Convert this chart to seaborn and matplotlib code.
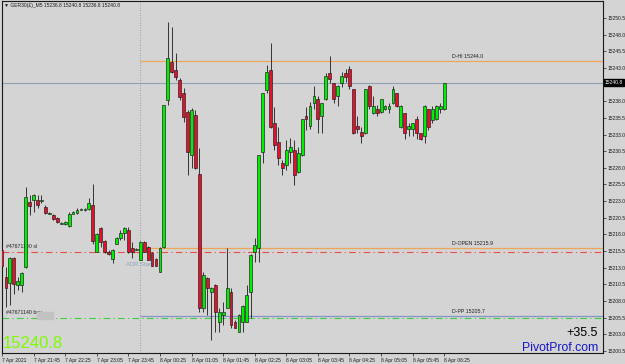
import matplotlib
matplotlib.use("Agg")
import matplotlib.pyplot as plt
import matplotlib.patches as mpatches
import numpy as np
import pandas as pd
import seaborn as sns

# ---------------- data ----------------
opens = [15215.7, 15211.6, 15210.7, 15214.5, 15210.4, 15210.4, 15213.1, 15222.9, 15223.2, 15223.2,
         15223.0, 15222.1, 15221.1, 15220.9, 15220.5, 15219.6, 15219.6, 15219.3, 15221.1, 15221.2,
         15221.7, 15221.7, 15221.8, 15222.4, 15215.4, 15219.0, 15217.0, 15215.4, 15214.3, 15216.6,
         15217.5, 15218.2, 15218.7, 15216.0, 15215.7, 15214.2, 15216.9, 15216.1, 15215.2, 15214.3,
         15212.4, 15216.1, 15238.2, 15243.9, 15242.7, 15241.2, 15239.2, 15236.4, 15229.9, 15235.9,
         15227.1, 15207.0, 15211.5, 15209.4, 15210.4, 15204.9, 15205.9, 15207.0, 15209.4, 15204.9,
         15203.4, 15204.9, 15204.9, 15209.4, 15215.4, 15216.0, 15230.4, 15239.7, 15242.7, 15234.7,
         15231.9, 15228.7, 15228.4, 15230.4, 15230.7, 15227.4, 15229.9, 15235.8, 15234.3, 15237.7,
         15238.3, 15235.8, 15238.3, 15242.2, 15240.7, 15238.8, 15240.7, 15242.2, 15242.8, 15239.8,
         15234.3, 15233.4, 15233.2, 15240.3, 15236.2, 15236.8, 15236.4, 15236.8, 15236.8, 15237.7,
         15239.2, 15234.1, 15236.2, 15233.8, 15233.8, 15235.3, 15233.2, 15232.8, 15236.8, 15235.2,
         15235.3, 15236.8, 15236.8]
highs = [15216.0, 15213.1, 15214.6, 15214.6, 15211.6, 15212.3, 15225.1, 15223.9, 15224.1, 15223.9,
         15223.9, 15222.4, 15221.3, 15221.1, 15220.6, 15219.9, 15220.0, 15221.3, 15221.5, 15222.0,
         15222.0, 15222.0, 15223.5, 15225.6, 15218.2, 15219.1, 15217.2, 15215.7, 15215.8, 15217.6,
         15218.7, 15219.1, 15219.1, 15216.9, 15216.0, 15217.0, 15217.0, 15216.3, 15215.4, 15214.5,
         15216.1, 15237.5, 15249.9, 15249.2, 15245.2, 15241.5, 15240.0, 15236.7, 15237.0, 15236.7,
         15231.0, 15212.4, 15211.6, 15210.1, 15210.5, 15207.0, 15207.9, 15216.0, 15210.0, 15205.2,
         15206.0, 15207.4, 15210.4, 15215.0, 15217.5, 15230.0, 15239.3, 15243.4, 15246.7, 15237.1,
         15234.1, 15229.2, 15232.2, 15232.5, 15232.2, 15231.1, 15235.4, 15237.1, 15237.9, 15240.3,
         15238.8, 15237.8, 15242.2, 15244.8, 15240.8, 15240.4, 15242.4, 15242.8, 15243.3, 15239.9,
         15235.8, 15234.1, 15239.9, 15240.4, 15238.8, 15237.4, 15238.4, 15237.4, 15237.7, 15240.3,
         15239.3, 15237.4, 15236.3, 15234.7, 15234.8, 15235.8, 15233.3, 15237.4, 15236.9, 15237.3,
         15237.4, 15237.7, 15240.8]
lows = [15212.7, 15207.1, 15207.4, 15209.1, 15209.7, 15209.4, 15213.0, 15220.9, 15221.4, 15222.0,
        15222.7, 15221.1, 15221.0, 15220.2, 15219.7, 15219.5, 15219.4, 15219.1, 15221.0, 15221.1,
        15221.6, 15221.5, 15221.7, 15216.6, 15215.3, 15216.1, 15215.2, 15214.9, 15213.7, 15216.5,
        15217.2, 15217.2, 15215.2, 15214.5, 15215.6, 15214.1, 15215.3, 15214.1, 15213.2, 15213.2,
        15212.3, 15216.0, 15237.4, 15242.2, 15241.2, 15238.2, 15234.9, 15226.9, 15228.0, 15227.9,
        15206.4, 15206.4, 15205.9, 15202.2, 15203.4, 15203.4, 15204.4, 15206.9, 15204.0, 15203.9,
        15203.3, 15203.4, 15204.8, 15205.5, 15213.9, 15213.9, 15228.7, 15239.2, 15234.0, 15230.7,
        15228.4, 15226.9, 15227.7, 15228.7, 15225.4, 15227.3, 15229.8, 15233.7, 15233.8, 15236.8,
        15233.2, 15233.2, 15238.2, 15240.7, 15237.7, 15237.3, 15240.1, 15240.9, 15239.8, 15233.1,
        15233.2, 15231.7, 15233.1, 15236.8, 15236.1, 15235.8, 15236.3, 15236.7, 15236.2, 15237.6,
        15237.2, 15234.0, 15232.3, 15232.8, 15232.8, 15232.3, 15232.2, 15231.7, 15233.7, 15234.7,
        15235.2, 15236.2, 15236.7]
closes = [15213.3, 15210.0, 15214.5, 15210.6, 15211.0, 15212.2, 15223.6, 15222.3, 15223.9, 15222.4,
          15223.2, 15221.2, 15221.2, 15220.3, 15219.9, 15219.7, 15219.9, 15221.1, 15221.4, 15221.7,
          15221.8, 15221.8, 15222.7, 15217.0, 15218.1, 15216.9, 15215.4, 15215.1, 15215.7, 15217.5,
          15218.2, 15219.0, 15215.4, 15215.4, 15215.8, 15216.9, 15215.4, 15214.2, 15213.3, 15213.3,
          15216.0, 15237.4, 15244.5, 15242.4, 15241.6, 15238.6, 15235.6, 15230.4, 15236.7, 15228.0,
          15207.0, 15211.9, 15210.0, 15210.0, 15206.4, 15206.4, 15206.4, 15210.0, 15204.4, 15204.0,
          15205.9, 15207.3, 15208.9, 15214.9, 15216.4, 15229.9, 15239.2, 15242.4, 15234.1, 15231.4,
          15229.5, 15228.0, 15230.7, 15231.1, 15226.9, 15230.2, 15235.3, 15235.3, 15237.3, 15238.8,
          15235.3, 15237.7, 15241.8, 15241.3, 15238.3, 15240.3, 15241.8, 15241.6, 15240.3, 15233.2,
          15233.8, 15232.8, 15239.8, 15237.3, 15237.3, 15236.2, 15238.3, 15237.3, 15237.3, 15239.8,
          15237.3, 15237.3, 15233.2, 15234.3, 15234.7, 15233.2, 15232.3, 15237.3, 15234.1, 15236.8,
          15237.3, 15237.3, 15240.8]

tick_bars = [0, 8, 16, 24, 32, 40, 48, 56, 64, 72, 80, 88, 96, 104, 112]
tick_labels = ["7 Apr 2021", "7 Apr 21:45", "7 Apr 22:25", "7 Apr 23:05", "7 Apr 23:45",
               "8 Apr 00:25", "8 Apr 01:05", "8 Apr 01:45", "8 Apr 02:25", "8 Apr 03:05",
               "8 Apr 03:45", "8 Apr 04:25", "8 Apr 05:05", "8 Apr 05:45", "8 Apr 06:25"]
price_ticks = [15200.5, 15203.0, 15205.5, 15208.0, 15210.5, 15213.0, 15215.5, 15218.0, 15220.5,
               15223.0, 15225.5, 15228.0, 15230.5, 15233.0, 15235.5, 15238.0, 15243.0, 15245.5,
               15248.0, 15250.5]
day_start_bar = 35
level_names = ["D-HI", "D-OPEN", "D-PP"]
level_values = [15244.0, 15215.9, 15205.7]
bid_price = 15240.8
sl_price = 15215.4
buy_price = 15205.5
change_text = "+35.5"
title_text = "\u25bc GER30(\u00a3)_M5 15236.8 15240.8 15236.8 15240.8"

df = pd.DataFrame({"open": opens, "high": highs, "low": lows, "close": closes})
df["bar"] = np.arange(len(df))
df["up"] = df["close"] >= df["open"]

# ---------------- styling ----------------
BG = "#d4d4d4"
sns.set_theme(style="white")
plt.rcParams["font.family"] = ["Liberation Sans", "DejaVu Sans"]
plt.rcParams["axes.facecolor"] = BG
plt.rcParams["figure.facecolor"] = BG

W, H = 625, 364
fig = plt.figure(figsize=(W / 100, H / 100), dpi=100)
ax = fig.add_axes([2 / W, 1 - 353 / H, 601 / W, 352 / H])
ax.set_facecolor(BG)

x_lo, x_hi = 0.08, 152.2
ax.set_xlim(x_lo, x_hi)
ax.set_ylim(15200.2, 15253.05)

# day separator
ax.axvline(day_start_bar, color="#8a8a8a", lw=0.6, ls=(0, (1, 2)), zorder=1)

# order lines
ax.axhline(sl_price, color="#f04a4a", lw=0.8, ls=(0, (6, 3, 1, 3)), zorder=1)
ax.axhline(buy_price, color="#3ccf3c", lw=0.8, ls=(0, (6, 3, 1, 3)), zorder=1)
# bid line
ax.axhline(bid_price, color="#8fa0b4", lw=0.8, zorder=1)

# daily levels
level_colors = ["#eea55a", "#eea55a", "#8894c8"]
for nm, val, col in zip(level_names, level_values, level_colors):
    ax.hlines(val, day_start_bar, x_hi, color=col, lw=0.9, zorder=1)
    ax.annotate(f"{nm} {val:.1f}", xy=(114, val), xytext=(0, 1.5), textcoords="offset points",
                fontsize=3.8, color="#202020", ha="left", va="bottom")

# candles
up = df[df["up"]]
dn = df[~df["up"]]
ax.vlines(df["bar"], df["low"], df["high"], color="#1a1a1a", lw=0.6, zorder=3)
ax.bar(up["bar"], (up["close"] - up["open"]).clip(lower=0.08), bottom=up["open"], width=0.72,
       color="#00ee00", edgecolor="#1a1a1a", linewidth=0.45, zorder=4)
ax.bar(dn["bar"], (dn["close"] - dn["open"]).clip(upper=-0.08), bottom=dn["open"], width=0.72,
       color="#e3122a", edgecolor="#1a1a1a", linewidth=0.45, zorder=4)

# order labels
ax.annotate("#47671140 sl", xy=(1.0, sl_price), xytext=(0, 2), textcoords="offset points",
            fontsize=3.8, color="#202020", ha="left", va="bottom")
ax.annotate("#47671140 buy,", xy=(1.0, buy_price), xytext=(0, 2), textcoords="offset points",
            fontsize=3.8, color="#202020", ha="left", va="bottom")
fig.patches.append(mpatches.Rectangle((37 / W, 1 - 319 / H), 16 / W, 7 / H,
                                      transform=fig.transFigure, color="#c2c2c2", zorder=2))
ax.annotate("ADR Start", xy=(31.5, sl_price), xytext=(0, -9), textcoords="offset points",
            fontsize=4.2, color="#86a9bb", ha="left", va="center", zorder=2)

# axes ticks
ax.yaxis.tick_right()
ax.set_yticks(price_ticks)
ax.set_yticklabels([f"{p:.1f}" for p in price_ticks])
ax.tick_params(axis="y", right=True, length=2, width=0.5, pad=1, labelsize=3.6,
               colors="#1a1a1a")
ax.set_xticks(tick_bars)
ax.set_xticklabels(tick_labels)
ax.tick_params(axis="x", bottom=True, length=2, width=0.5, pad=1.5, labelsize=3.6,
               colors="#1a1a1a")
for lab in ax.get_xticklabels():
    lab.set_ha("left")

for s in ax.spines.values():
    s.set_visible(True)
    s.set_color("#1a1a1a")
    s.set_linewidth(0.8)

# current price tag on the axis
ax.annotate(f"{bid_price:.1f}", xy=(1.0, bid_price), xycoords=("axes fraction", "data"),
            xytext=(1.5, 0), textcoords="offset points", fontsize=3.6, color="white",
            ha="left", va="center",
            bbox=dict(boxstyle="square,pad=0.25", fc="black", ec="black"))

# texts
fig.text(4 / W, 1 - 5 / H, title_text, fontsize=3.6, color="#1a1a1a", ha="left", va="center")
fig.text(3 / W, 1 - 343 / H, f"{bid_price:.1f}", fontsize=12, color="#7cfc00",
         ha="left", va="center")
fig.text(598 / W, 1 - 333 / H, change_text, fontsize=9, color="black", ha="right", va="center")
fig.text(598 / W, 1 - 348 / H, "PivotProf.com", fontsize=8.8, color="#1515c8",
         ha="right", va="center")

fig.savefig("out.png", dpi=100, facecolor=BG)
